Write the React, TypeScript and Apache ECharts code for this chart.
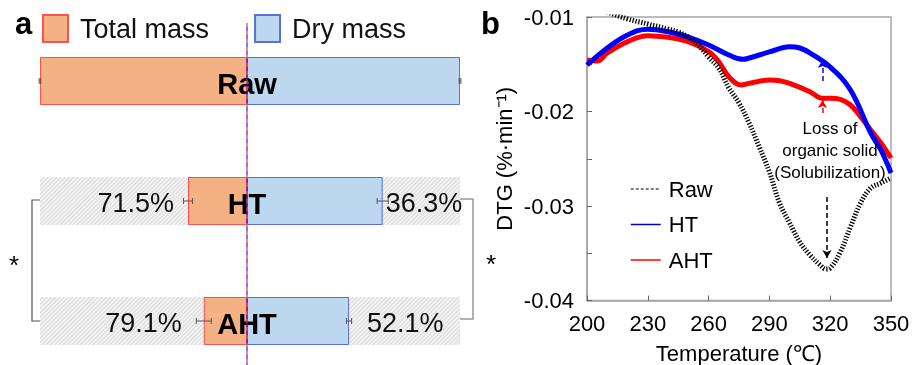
import React, { useEffect, useRef } from 'react';
import * as echarts from 'echarts';

const FONT = 'Liberation Sans, Arial, Helvetica, sans-serif';

// ---------- Panel a data ----------
const categories = ['Raw', 'HT', 'AHT'];
const totalRemaining = [100, 28.5, 20.9];
const dryRemaining = [100, 63.7, 47.9];
const totalLossLabels = ['', '71.5%', '79.1%'];
const dryLossLabels = ['', '36.3%', '52.1%'];
const totalErr = [0.4, 2.2, 3.6];
const dryErr = [0.4, 2.6, 1.2];
const backgroundFull = [null, 100, 100];

// ---------- Panel b data ----------
const rawT = [200, 210, 220, 230, 240, 245, 250, 255, 260, 265, 270, 275, 280, 285, 290, 295, 300, 305, 310, 315, 318, 320, 325, 330, 335, 340, 345, 350];
const rawDTG = [-0.00873, -0.00947, -0.01021, -0.01074, -0.01127, -0.01159, -0.01212, -0.01296, -0.01423, -0.0154, -0.01751, -0.0191, -0.02122, -0.02376, -0.0264, -0.02968, -0.0318, -0.03381, -0.03519, -0.03624, -0.03667, -0.03656, -0.03487, -0.03222, -0.02968, -0.0281, -0.02757, -0.02704];
const htT = [200, 210, 220, 230, 240, 250, 260, 270, 277, 280, 290, 300, 305, 310, 320, 330, 340, 345, 350];
const htDTG = [-0.01508, -0.01328, -0.0119, -0.0113, -0.01156, -0.01212, -0.01296, -0.01402, -0.01448, -0.01434, -0.0137, -0.01314, -0.01328, -0.01381, -0.01529, -0.01772, -0.02228, -0.02407, -0.02651];
const ahtT = [200, 205, 210, 220, 230, 240, 250, 260, 265, 270, 276, 280, 290, 295, 300, 310, 316, 320, 325, 330, 335, 340, 345, 350];
const ahtDTG = [-0.01455, -0.01466, -0.01381, -0.01261, -0.01198, -0.01215, -0.01261, -0.01367, -0.01473, -0.01632, -0.0172, -0.01702, -0.01667, -0.01674, -0.01702, -0.0179, -0.0186, -0.0186, -0.01871, -0.01931, -0.02055, -0.02196, -0.02333, -0.02492];

// annotation arrows (temperature, start DTG, end DTG)
const htArrow = [316.2, -0.01455, -0.01698];
const ahtArrow = [316.2, -0.01878, -0.02037];
const rawArrow = [318.4, -0.0355, -0.02884];

const ORANGE = '#F4B183';
const ORANGE_EDGE = '#FF5050';
const BLUE = '#BDD7EE';
const BLUE_EDGE = '#5B6FD8';

const hatch = {
  color: '#F1F1F1',
  decal: {
    symbol: 'rect',
    symbolSize: 1,
    dashArrayX: [[1, 0]],
    dashArrayY: [1, 2],
    rotation: -Math.PI / 4,
    color: '#DCDCDC',
  },
};

const errRender = (params: any, api: any) => {
  const idx = api.value(0);
  const v = api.value(1);
  const e = api.value(2);
  const a = api.coord([v - e, idx]);
  const b = api.coord([v + e, idx]);
  const h = 3;
  const style = { stroke: '#555', lineWidth: 1 };
  return {
    type: 'group',
    children: [
      { type: 'line', shape: { x1: a[0], y1: a[1], x2: b[0], y2: b[1] }, style },
      { type: 'line', shape: { x1: a[0], y1: a[1] - h, x2: a[0], y2: a[1] + h }, style },
      { type: 'line', shape: { x1: b[0], y1: b[1] - h, x2: b[0], y2: b[1] + h }, style },
    ],
  };
};

const leftDist = [0, 14, 22];
const rightDist = [0, 3, 18];

function pairs(xs: number[], ys: number[]) {
  return xs.map((x, i) => [x, ys[i]]);
}

function buildOption(): any {
  const pctLabel = (txt: string, pos: string, dist: number) => ({
    show: txt !== '',
    position: pos,
    distance: dist,
    formatter: () => txt,
    fontSize: 27,
    color: '#111',
    fontFamily: FONT,
    offset: [0, 2],
  });

  const arrowLine = (arr: number[], color: string) => ({
    silent: true,
    symbol: ['arrow', 'none'],
    symbolSize: [7, 8],
    label: { show: false },
    lineStyle: { type: [5, 3], color, width: 1.5 },
    data: [[{ coord: [arr[0], arr[1]] }, { coord: [arr[0], arr[2]] }]],
  });

  const noSymbol = { color: 'transparent', borderWidth: 0, opacity: 0 };

  return {
    animation: false,
    textStyle: { fontFamily: FONT },
    grid: [
      { left: 40, top: 21, width: 207, height: 360, outerBoundsMode: 'none' },
      { left: 247, top: 21, width: 213, height: 360, outerBoundsMode: 'none' },
      { left: 587, top: 17, right: 26, bottom: 64.5, show: true, borderColor: '#A6A6A6', borderWidth: 1.5, outerBoundsMode: 'none' },
    ],
    xAxis: [
      { gridIndex: 0, type: 'value', min: 0, max: 100, inverse: true, show: false },
      { gridIndex: 1, type: 'value', min: 0, max: 100, show: false },
      {
        gridIndex: 2, type: 'value', min: 200, max: 350, interval: 30,
        axisLine: { lineStyle: { color: '#A6A6A6', width: 1.5 } },
        axisTick: { inside: true, length: 5, lineStyle: { color: '#666' } },
        splitLine: { show: false },
        axisLabel: { fontSize: 22, color: '#000', margin: 12, fontFamily: FONT },
        name: 'Temperature (℃)', nameLocation: 'middle', nameGap: 42,
        nameTextStyle: { fontSize: 22, color: '#000', fontFamily: FONT },
      },
    ],
    yAxis: [
      { gridIndex: 0, type: 'category', data: categories, inverse: true, show: false },
      { gridIndex: 1, type: 'category', data: categories, inverse: true, show: false },
      {
        gridIndex: 2, type: 'value', min: -0.04, max: -0.01, interval: 0.005,
        axisLine: { show: true, lineStyle: { color: '#A6A6A6', width: 1.5 } },
        axisTick: { show: true, inside: true, length: 5, lineStyle: { color: '#666' } },
        splitLine: { show: false },
        axisLabel: {
          fontSize: 22, color: '#000', margin: 13, fontFamily: FONT,
          formatter: (v: number) => {
            const k = Math.round(v * 1000);
            return k % 10 === 0 ? (k / 1000).toFixed(2) : '';
          },
        },
        name: 'DTG (%·min⁻¹)', nameLocation: 'middle', nameGap: 72,
        nameTextStyle: { fontSize: 22, color: '#000', fontFamily: FONT },
      },
    ],
    legend: [
      {
        data: ['Total mass', 'Dry mass'],
        left: 42, top: 14, padding: 0,
        itemWidth: 25, itemHeight: 27, itemGap: 45,
        icon: 'rect',
        textStyle: { fontSize: 27, color: '#111', lineHeight: 27, padding: [0, 0, 0, 7], fontFamily: FONT },
        selectedMode: false,
      },
      {
        data: [
          { name: 'Raw', itemStyle: noSymbol, lineStyle: { type: [3, 2], width: 1.2, color: '#000' } },
          { name: 'HT', itemStyle: noSymbol, lineStyle: { type: 'solid', width: 1.5, color: '#0000C8' } },
          { name: 'AHT', itemStyle: noSymbol, lineStyle: { type: 'solid', width: 1.5, color: '#FF0000' } },
        ],
        orient: 'vertical',
        left: 630, top: 178, padding: 0,
        itemWidth: 30, itemHeight: 10, itemGap: 13.5,
        textStyle: { fontSize: 22, color: '#000', lineHeight: 22, padding: [0, 0, 0, 3], fontFamily: FONT },
        selectedMode: false,
      },
    ],
    series: [
      {
        name: 'bgL', type: 'bar', xAxisIndex: 0, yAxisIndex: 0, barWidth: 48, barGap: '-100%',
        data: backgroundFull, itemStyle: hatch, silent: true,
      },
      {
        name: 'Total mass', type: 'bar', xAxisIndex: 0, yAxisIndex: 0, barWidth: 48, barGap: '-100%',
        itemStyle: { color: ORANGE, borderColor: ORANGE_EDGE, borderWidth: 1 },
        data: totalRemaining.map((v, i) => ({ value: v, label: pctLabel(totalLossLabels[i], 'left', leftDist[i]) })),
      },
      {
        name: 'errL', type: 'custom', xAxisIndex: 0, yAxisIndex: 0, renderItem: errRender,
        encode: { x: 1, y: 0 }, silent: true, z: 5,
        data: categories.map((c, i) => [i, totalRemaining[i], totalErr[i]]),
      },
      {
        name: 'bgR', type: 'bar', xAxisIndex: 1, yAxisIndex: 1, barWidth: 48, barGap: '-100%',
        data: backgroundFull, itemStyle: hatch, silent: true,
      },
      {
        name: 'Dry mass', type: 'bar', xAxisIndex: 1, yAxisIndex: 1, barWidth: 48, barGap: '-100%',
        itemStyle: { color: BLUE, borderColor: BLUE_EDGE, borderWidth: 1 },
        data: dryRemaining.map((v, i) => ({ value: v, label: pctLabel(dryLossLabels[i], 'right', rightDist[i]) })),
      },
      {
        name: 'errR', type: 'custom', xAxisIndex: 1, yAxisIndex: 1, renderItem: errRender,
        encode: { x: 1, y: 0 }, silent: true, z: 5,
        data: categories.map((c, i) => [i, dryRemaining[i], dryErr[i]]),
      },
      {
        name: 'names', type: 'scatter', xAxisIndex: 1, yAxisIndex: 1, symbolSize: 1,
        itemStyle: { color: 'transparent', opacity: 1 }, silent: true, z: 6,
        data: categories.map((c, i) => [0, i]),
        label: {
          show: true, position: 'inside', offset: [0, 3],
          formatter: (p: any) => categories[p.dataIndex],
          fontSize: 29, fontWeight: 'bold', color: '#000', fontFamily: FONT,
          textBorderWidth: 0, opacity: 1,
        },
      },
      {
        name: 'AHT', type: 'line', xAxisIndex: 2, yAxisIndex: 2, smooth: 0.4,
        symbol: 'none', showSymbol: false,
        lineStyle: { color: '#FF0000', width: 5 }, itemStyle: { color: '#FF0000' },
        data: pairs(ahtT, ahtDTG),
        markLine: arrowLine(ahtArrow, '#FF0000'),
      },
      {
        name: 'HT', type: 'line', xAxisIndex: 2, yAxisIndex: 2, smooth: 0.4,
        symbol: 'none', showSymbol: false,
        lineStyle: { color: '#0000FF', width: 5 }, itemStyle: { color: '#0000FF' },
        data: pairs(htT, htDTG),
        markLine: arrowLine(htArrow, '#0000FF'),
      },
      {
        name: 'Raw', type: 'line', xAxisIndex: 2, yAxisIndex: 2, smooth: 0.4,
        symbol: 'none', showSymbol: false,
        lineStyle: { color: '#000', width: 5, type: [1.3, 1.7] }, itemStyle: { color: '#000' },
        data: pairs(rawT, rawDTG),
        markLine: arrowLine(rawArrow, '#000'),
      },
    ],
    graphic: [
      { type: 'text', left: 15, top: 8, style: { text: 'a', fontSize: 31, fontWeight: 'bold', fill: '#000', fontFamily: FONT } },
      { type: 'text', left: 481, top: 8, style: { text: 'b', fontSize: 31, fontWeight: 'bold', fill: '#000', fontFamily: FONT } },
      { type: 'line', shape: { x1: 247, y1: 23, x2: 247, y2: 365 }, style: { stroke: '#FF3030', lineWidth: 1.2, lineDash: [4, 4] }, z: 100 },
      { type: 'line', shape: { x1: 247, y1: 23, x2: 247, y2: 365 }, style: { stroke: '#2020FF', lineWidth: 1.2, lineDash: [4, 4], lineDashOffset: 4 }, z: 100 },
      { type: 'polyline', shape: { points: [[40, 200], [32, 200], [32, 321], [40, 321]] }, style: { stroke: '#555', lineWidth: 1.2, fill: null }, z: 50 },
      { type: 'polyline', shape: { points: [[460, 199], [473, 199], [473, 319], [460, 319]] }, style: { stroke: '#999', lineWidth: 1.5, fill: null }, z: 50 },
      { type: 'text', left: 9, top: 252, style: { text: '*', fontSize: 26, fill: '#000', fontFamily: FONT } },
      { type: 'text', left: 486, top: 251, style: { text: '*', fontSize: 26, fill: '#000', fontFamily: FONT } },
      {
        type: 'text', x: 830, y: 117,
        style: {
          text: 'Loss of\norganic solid\n(Solubilization)', fontSize: 17, lineHeight: 22,
          align: 'center', verticalAlign: 'top', fill: '#000', fontFamily: FONT,
        },
        z: 100,
      },
    ],
  };
}

export default function App() {
  const ref = useRef<HTMLDivElement>(null);
  useEffect(() => {
    const chart = echarts.init(ref.current!, null, { renderer: 'svg' });
    chart.setOption(buildOption());
    return () => chart.dispose();
  }, []);
  return <div ref={ref} style={{ position: 'fixed', left: 0, top: 0, width: 917, height: 365 }} />;
}
